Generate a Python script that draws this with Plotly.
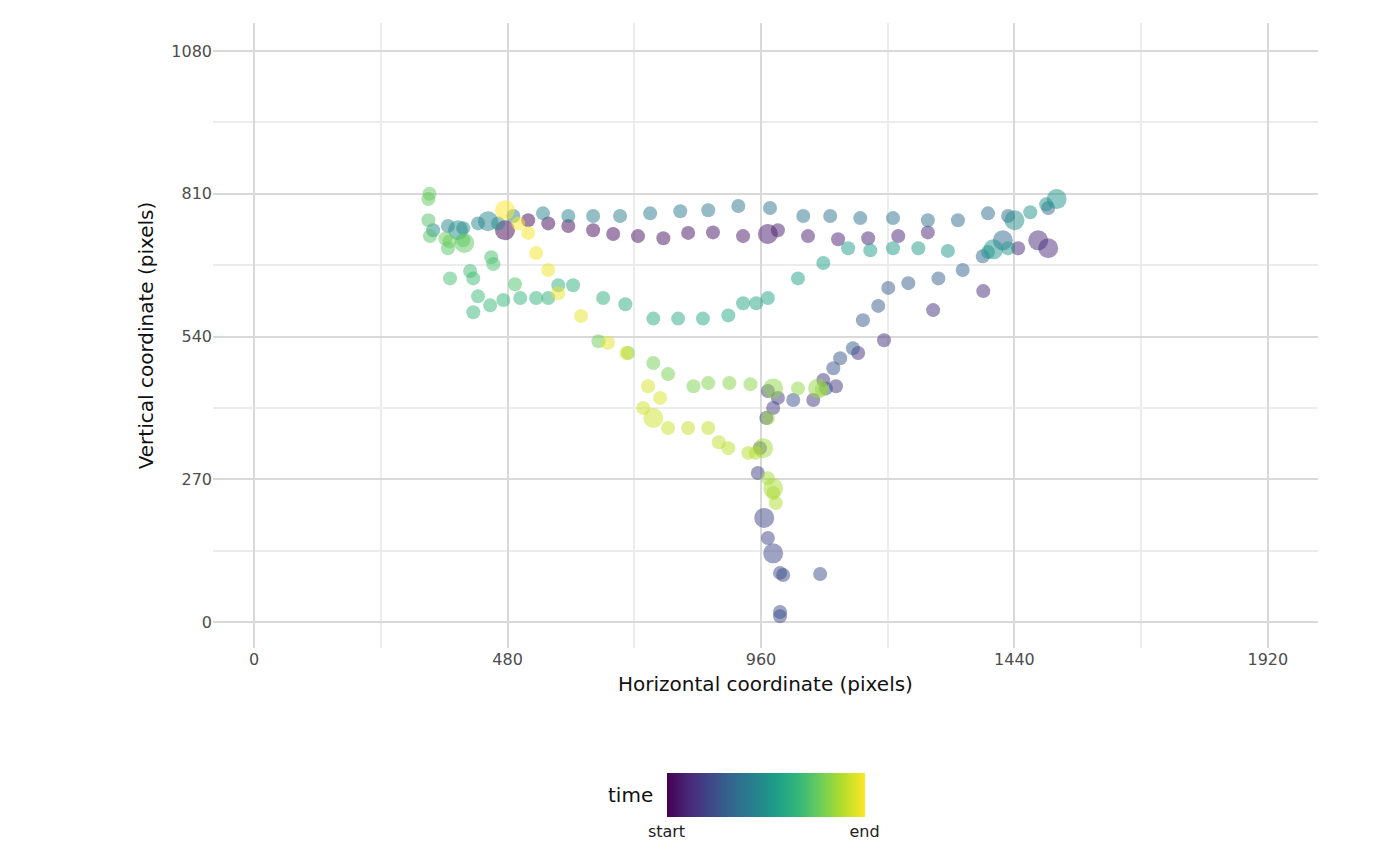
import plotly.graph_objects as go

# fixation sequences in time order (x, y in pixels)
seg_top_row = [(475, 741), (519, 760), (557, 754), (595, 749), (642, 741), (680, 734), (727, 730),
               (775, 726), (822, 736), (869, 737), (926, 730), (973, 734), (992, 741), (1049, 730),
               (1106, 724), (1163, 726), (1220, 730), (1276, 737)]
seg_right1 = [(1447, 707), (1485, 722), (1504, 707)]
seg_diag_down = [(1381, 626), (1286, 590), (1193, 533), (1144, 509), (1102, 446), (1078, 458),
                 (1059, 420), (992, 424), (983, 405), (973, 437)]
seg_stream_down = [(970, 386), (958, 329), (954, 282), (966, 197), (973, 159), (983, 130),
                   (996, 93), (1002, 89), (1072, 91), (996, 19), (996, 11)]
seg_diag_up = [(1021, 420), (1083, 442), (1097, 480), (1110, 499), (1134, 518), (1153, 571),
               (1182, 598), (1201, 632), (1239, 641), (1296, 650), (1342, 666), (1380, 692), (1418, 722)]
seg_upper_row = [(1504, 783), (1428, 768), (1390, 773), (1333, 760), (1276, 760), (1210, 764),
                 (1148, 764), (1091, 768), (1040, 768), (977, 783), (917, 787), (860, 779),
                 (807, 777), (750, 773), (693, 768), (642, 768), (595, 768), (547, 773),
                 (491, 768), (424, 754), (367, 749)]
seg_left_cluster = [(443, 758), (462, 754), (396, 745), (386, 741), (339, 741)]
seg_right2 = [(1440, 760), (1470, 775), (1500, 790), (1520, 800), (1390, 700), (1400, 705)]
seg_green_mid = [(1428, 707), (1314, 702), (1258, 707), (1210, 707), (1167, 703), (1125, 707),
                 (1078, 679), (1030, 650), (973, 613), (951, 603), (926, 603), (898, 580),
                 (850, 574), (803, 574), (756, 574), (703, 601), (661, 613), (604, 637),
                 (576, 637), (557, 613), (534, 613), (504, 613), (472, 609), (447, 599),
                 (415, 586), (424, 616), (415, 650), (409, 664), (371, 650), (449, 690),
                 (453, 677), (494, 639)]
seg_left2 = [(330, 760), (333, 730), (367, 707), (396, 722), (398, 717), (330, 800), (332, 810),
             (362, 725), (370, 720)]
seg_green_low = [(652, 531), (708, 509), (756, 490), (784, 469), (832, 446), (860, 452),
                 (900, 452), (940, 450), (983, 442), (1030, 442), (1068, 442), (1075, 440)]
seg_yg_stream = [(973, 386), (964, 329), (973, 272), (983, 253), (983, 244), (988, 225)]
seg_yellow = [(950, 320), (936, 320), (898, 329), (880, 340), (860, 367), (822, 367),
              (784, 367), (756, 386), (737, 405), (746, 446), (769, 424), (705, 509),
              (670, 528), (619, 579), (576, 622), (557, 666), (534, 698), (519, 736),
              (500, 754), (475, 779)]

# longer fixations (drawn larger): (x, y)
long_fix = [(475, 741), (973, 734), (1504, 707), (1485, 722), (1418, 722), (443, 758),
            (386, 741), (1440, 760), (1520, 800), (1400, 705), (398, 717), (983, 442),
            (1068, 442), (983, 253), (964, 329), (756, 386), (475, 779), (966, 197),
            (983, 130)]

segments = [seg_top_row, seg_right1, seg_diag_down, seg_stream_down, seg_diag_up, seg_upper_row,
            seg_left_cluster, seg_right2, seg_green_mid, seg_left2, seg_green_low, seg_yg_stream,
            seg_yellow]
pts = [p for s in segments for p in s]
x = [p[0] for p in pts]
y = [p[1] for p in pts]
t = list(range(len(pts)))
sizes = [20 if p in long_fix else 14 for p in pts]

fig = go.Figure(go.Scatter(
    x=x, y=y, mode="markers",
    marker=dict(color=t, colorscale="Viridis", size=sizes, opacity=0.5, line=dict(width=0),
                cmin=0, cmax=len(pts) - 1,
                colorbar=dict(orientation="h", x=0.5, y=-0.184, xanchor="center", yanchor="top",
                              len=0.197, thickness=44, outlinewidth=0,
                              tickvals=[0, len(pts) - 1], ticktext=["start", "end"],
                              ticks="", tickfont=dict(size=16, color="#222")))
))

fig.add_annotation(text="time", xref="paper", yref="paper", x=0.4, y=-0.235,
                   xanchor="right", yanchor="middle", showarrow=False,
                   font=dict(size=20, color="#111"))

grid = dict(showgrid=True, gridcolor="#d9d9d9", gridwidth=1.5, zeroline=False, ticks="",
            tickfont=dict(size=16, color="#4d4d4d"), showline=False)
fig.update_layout(
    template="none",
    width=1400, height=866,
    plot_bgcolor="white", paper_bgcolor="white",
    font=dict(family="DejaVu Sans"),
    margin=dict(l=205, r=90, t=15, b=226),
    showlegend=False,
    xaxis=dict(range=[-78, 2015], tickvals=[0, 480, 960, 1440, 1920],
               minor=dict(showgrid=True, gridcolor="#ececec", tickvals=[240, 720, 1200, 1680]),
               title=dict(text="Horizontal coordinate (pixels)", font=dict(size=20, color="#111"), standoff=8),
               **grid),
    yaxis=dict(range=[-49, 1133], tickvals=[0, 270, 540, 810, 1080],
               minor=dict(showgrid=True, gridcolor="#ececec", tickvals=[135, 405, 675, 945]),
               title=dict(text="Vertical coordinate (pixels)", font=dict(size=20, color="#111"), standoff=12),
               **grid),
)
fig.write_html("out.html")
